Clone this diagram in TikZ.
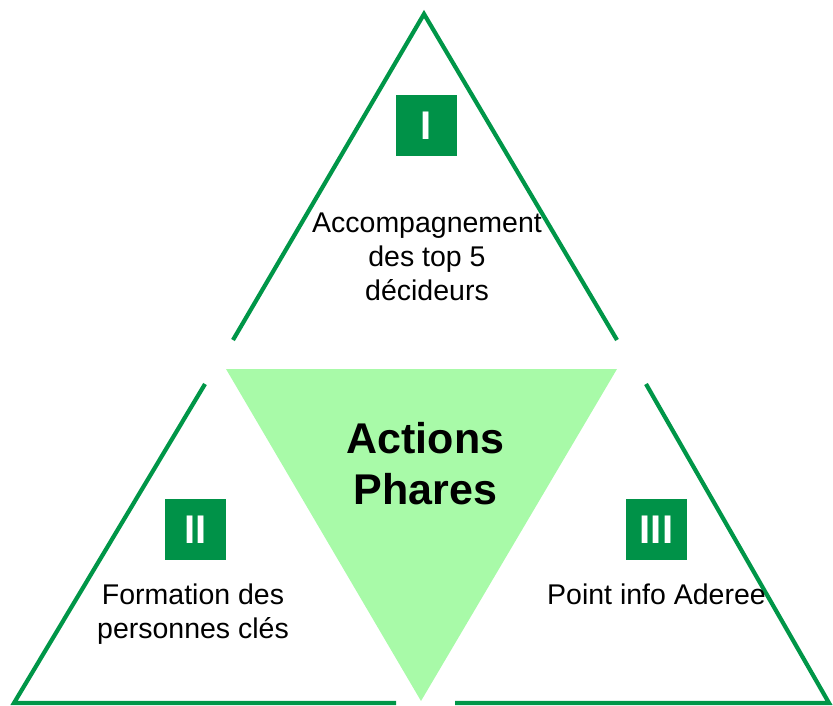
\documentclass[tikz,border=0pt]{standalone}
\usepackage{fontspec}
\setmainfont{Liberation Sans}
\usepackage{tikz}
\usepackage{xcolor}
\definecolor{edgegreen}{RGB}{0,150,72}
\definecolor{badgegreen}{RGB}{0,146,72}
\definecolor{palegreen}{RGB}{168,250,168}

\tikzset{
  side/.style={edgegreen, line width=4.2pt, line join=miter},
  badge/.style={fill=badgegreen, text=white, minimum size=61pt, inner sep=0pt,
    font=\fontsize{40}{40}\selectfont\bfseries},
  caption/.style={align=center, anchor=base, inner sep=0pt,
    font=\fontsize{28.5}{34}\selectfont}
}

\begin{document}
\begin{tikzpicture}[x=1pt, y=-1pt]
\useasboundingbox (0,0) rectangle (833,706);
\fill[palegreen] (226,369) -- (617,369) -- (421,701) -- cycle;
\draw[side] (233,340) -- (424,14) -- (617,340);
\draw[side] (205,384) -- (14,703) -- (396,703);
\draw[side] (646,384) -- (829,703) -- (455,703);
\node[badge] (one) at (426.5,125.5) {I};
\node[badge] (two) at (195.5,529.5) {II};
\node[badge] (three) at (656.5,529.5) {III};
\node[caption] (topcap) at (427,300) {Accompagnement\\des top 5\\décideurs};
\node[caption] (leftcap) at (193,638) {Formation des\\personnes clés};
\node[caption] (rightcap) at (656.5,604) {Point info Aderee};
\node[align=center, anchor=base, inner sep=0pt,
  font=\fontsize{43}{51}\selectfont\bfseries] (centre) at (425.5,504) {Actions\\Phares};
\end{tikzpicture}
\end{document}
